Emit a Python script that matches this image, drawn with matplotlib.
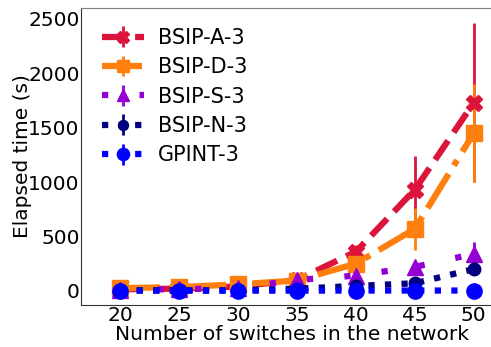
import numpy as np
import matplotlib.pyplot as plt

switches = [20, 25, 30, 35, 40, 45, 50]

bsip_a = [15, 20, 40, 100, 360, 930, 1730]
bsip_a_err = [10, 10, 15, 25, 60, 310, 730]
bsip_d = [25, 35, 60, 95, 250, 570, 1450]
bsip_d_err = [10, 10, 15, 20, 40, 190, 450]
bsip_s = [10, 15, 25, 100, 140, 220, 340]
bsip_s_err = [5, 5, 10, 15, 30, 30, 110]
bsip_n = [5, 5, 5, 20, 45, 70, 200]
bsip_n_err = [2, 2, 2, 5, 10, 20, 20]
gpint = [2, 2, 2, 2, 3, 3, 3]
gpint_err = [1, 1, 1, 1, 1, 1, 1]

series = [
    ("BSIP-A-3", bsip_a, bsip_a_err, "#DC143C", "--", "X", 11),
    ("BSIP-D-3", bsip_d, bsip_d_err, "#FF7F0E", "-.", "s", 11),
    ("BSIP-S-3", bsip_s, bsip_s_err, "#9400D3", (0, (1, 5)), "^", 11),
    ("BSIP-N-3", bsip_n, bsip_n_err, "#000080", ":", "o", 9),
    ("GPINT-3", gpint, gpint_err, "#0000FF", ":", "o", 11),
]

fig = plt.figure(figsize=(4.91, 3.47), dpi=100)
ax = fig.add_axes([0.165, 0.121, 0.86, 0.856])

for label, vals, err, color, ls, mk, ms in series:
    ax.errorbar(switches, vals, yerr=err, label=label, color=color,
                linestyle=ls, linewidth=4.5, marker=mk, markersize=ms,
                elinewidth=2)
    if label == "BSIP-N-3":
        # small white glyph inside the navy markers
        ax.plot(switches, vals, linestyle="none", marker=r"$\cdot$",
                color="white", markersize=6)

ax.set_xlim(16.69, 52.5)
ax.set_ylim(-130, 2600)
ax.set_xticks([20, 25, 30, 35, 40, 45, 50])
ax.set_yticks([0, 500, 1000, 1500, 2000, 2500])
ax.tick_params(labelsize=14.5, length=0, pad=1)
ax.set_xlabel("Number of switches in the network", fontsize=14.5, labelpad=0)
ax.set_ylabel("Elapsed time (s)", fontsize=14.5, labelpad=-3)
ax.spines["top"].set_color("#808080")
for s in ["left", "bottom"]:
    ax.spines[s].set_color("#333333")

ax.legend(loc="upper left", fontsize=15, frameon=False, handlelength=2.0,
          borderaxespad=0.2, labelspacing=0.45, handletextpad=0.7,
          markerscale=0.8, bbox_to_anchor=(0.02, 0.975))

fig.savefig("out.png", dpi=100)
